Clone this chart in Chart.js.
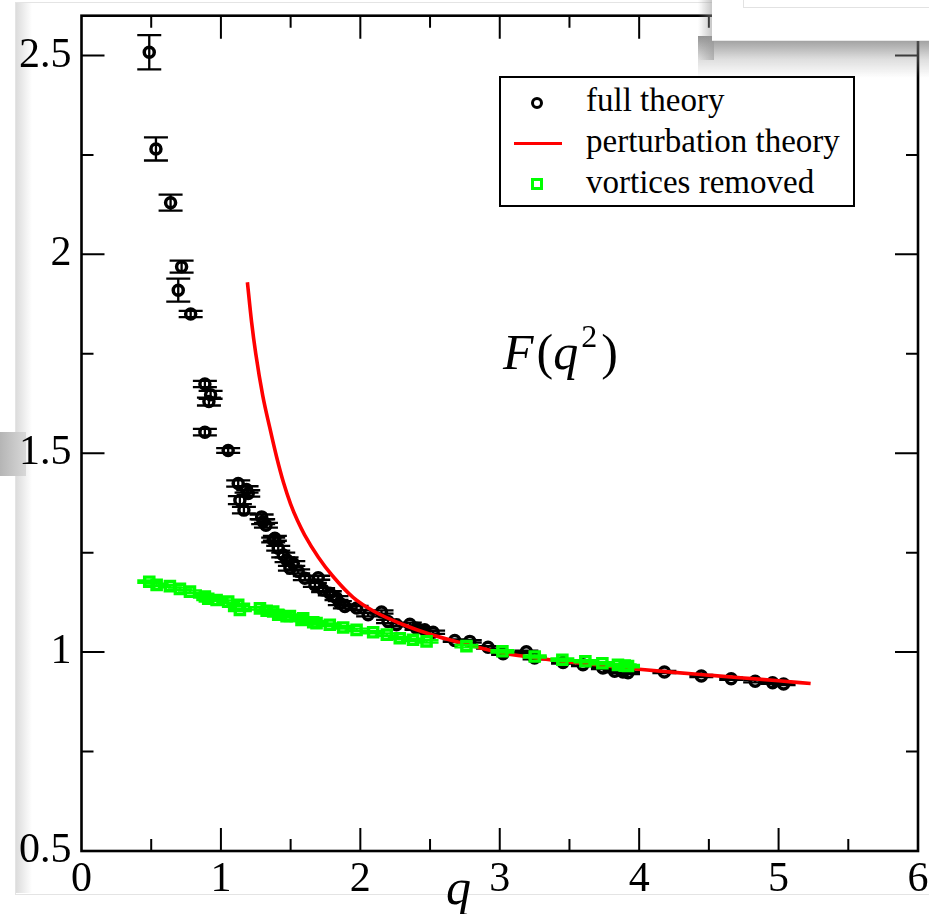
<!DOCTYPE html>
<html>
<head>
<meta charset="utf-8">
<script src="https://cdn.jsdelivr.net/npm/chart.js@4/dist/chart.umd.min.js"></script>
<style>
  html, body { margin: 0; padding: 0; background: #fff; }
  #wrap { position: relative; width: 929px; height: 914px; overflow: hidden; font-family: "Liberation Serif", "Times New Roman", serif; }
  canvas { position: absolute; left: 0; top: 0; z-index: 1; }
  .bg { position: absolute; z-index: 0; }
  .ov { position: absolute; z-index: 2; }
  .txt { position: absolute; z-index: 3; color: #000; white-space: nowrap; }
</style>
</head>
<body>
<div id="wrap">
  <!-- screenshot frame decorations -->
  <div class="bg" style="left:15px;top:2px;width:930px;height:891px;border:1px solid #e4e4e4;"></div>
  <div class="bg" style="left:16px;top:3px;width:16px;height:890px;background:linear-gradient(to right,#dcdcdc,rgba(255,255,255,0));"></div>
  <div class="bg" style="left:0px;top:432px;width:26px;height:44px;background:linear-gradient(to right,#b5b5b5,#d8d8d8);"></div>
  <div class="ov" style="left:698px;top:36px;width:240px;height:42px;background:linear-gradient(to bottom,rgba(110,110,110,0.75),rgba(160,160,160,0.35) 55%,rgba(255,255,255,0));"></div>
  <div class="ov" style="left:698px;top:0px;width:16px;height:60px;background:linear-gradient(to right,rgba(255,255,255,0),rgba(150,150,150,0.6));"></div>
  <div class="ov" style="left:712px;top:0px;width:217px;height:40px;background:#fff;border-bottom:1px solid #e8e8e8;"></div>
  <div class="ov" style="left:743px;top:-10px;width:200px;height:16px;border:1px solid #e2e2e2;background:#fff;"></div>

  <canvas id="c" width="929" height="914"></canvas>

  <!-- legend -->
  <div class="ov" style="left:499px;top:76px;width:352px;height:127px;border:2px solid #000;background:#fff;z-index:3;"></div>
  <div class="ov" style="left:531px;top:97px;width:6px;height:6px;border:3px solid #000;border-radius:50%;z-index:4;"></div>
  <div class="ov" style="left:514px;top:142px;width:48px;height:3px;background:#ff0000;z-index:4;"></div>
  <div class="ov" style="left:531px;top:178px;width:6px;height:6px;border:3px solid #00ff00;z-index:4;"></div>
  <div class="txt" style="left:586px;top:80px;font-size:33px;line-height:40px;z-index:4;">full theory</div>
  <div class="txt" style="left:586px;top:121px;font-size:33px;line-height:40px;z-index:4;">perturbation theory</div>
  <div class="txt" style="left:586px;top:162px;font-size:33px;line-height:40px;z-index:4;">vortices removed</div>

  <!-- annotation -->
  <div class="txt" style="left:503px;top:320px;font-size:50px;line-height:64px;"><i>F</i><span style="margin-left:3px;">(</span><i>q</i><sup style="font-size:32px;vertical-align:0;position:relative;top:-22px;margin-left:3px;">2</sup><span style="margin-left:4px;">)</span></div>
  <!-- axis title -->
  <div class="txt" style="left:446px;top:857px;font-size:50px;line-height:60px;"><i>q</i></div>
</div>

<script>
// ---------- data ----------
const xTickLabels = ["0", "1", "2", "3", "4", "5", "6"];
const yTickLabels = ["0.5", "1", "1.5", "2", "2.5"];

// full theory (black circles)
const fullQ = [0.486, 0.534, 0.639, 0.694, 0.718, 0.783, 0.885, 0.885, 0.914, 0.926,
  1.052, 1.124, 1.136, 1.165, 1.184, 1.196, 1.292, 1.303, 1.323, 1.375,
  1.387, 1.411, 1.447, 1.471, 1.495, 1.519, 1.554, 1.602, 1.674, 1.698,
  1.733, 1.781, 1.829, 1.853, 1.889, 1.973, 2.056, 2.152, 2.199, 2.259,
  2.355, 2.403, 2.462, 2.522, 2.677, 2.785, 2.916, 3.024, 3.191, 3.250,
  3.454, 3.597, 3.740, 3.824, 3.884, 3.920, 4.181, 4.446, 4.660, 4.832,
  4.957, 5.036];
const fullF = [2.508, 2.265, 2.130, 1.910, 1.969, 1.850, 1.674, 1.553, 1.630, 1.647,
  1.507, 1.424, 1.382, 1.357, 1.409, 1.399, 1.340, 1.328, 1.319, 1.282,
  1.286, 1.261, 1.244, 1.232, 1.211, 1.223, 1.203, 1.186, 1.169, 1.187,
  1.156, 1.148, 1.136, 1.123, 1.115, 1.111, 1.094, 1.101, 1.077, 1.069,
  1.070, 1.060, 1.056, 1.050, 1.029, 1.027, 1.012, 0.996, 1.001, 0.985,
  0.974, 0.968, 0.960, 0.952, 0.950, 0.948, 0.950, 0.940, 0.933, 0.927,
  0.923, 0.920];
const fullErr = [0.043, 0.029, 0.020, 0.029, 0.015, 0.008, 0.008, 0.008, 0.010, 0.010,
  0.006, 0.008, 0.010, 0.008, 0.008, 0.008, 0.006, 0.006, 0.006, 0.006,
  0.006, 0.006, 0.006, 0.006, 0.006, 0.006, 0.005, 0.005, 0.005, 0.005,
  0.005, 0.005, 0.005, 0.005, 0.005, 0.005, 0.004, 0.004, 0.004, 0.004,
  0.004, 0.004, 0.004, 0.004, 0.003, 0.003, 0.003, 0.003, 0.003, 0.003,
  0.003, 0.003, 0.003, 0.003, 0.003, 0.003, 0.003, 0.003, 0.003, 0.003,
  0.003, 0.003];

// perturbation theory (red curve)
const pertQ = [1.19, 1.22, 1.25, 1.30, 1.35, 1.40, 1.45, 1.50, 1.55, 1.60,
  1.70, 1.80, 1.95, 2.10, 2.30, 2.50, 2.75, 3.00, 3.25, 3.50,
  3.75, 4.00, 4.25, 4.50, 4.75, 5.00, 5.23];
const pertF = [1.930, 1.830, 1.750, 1.645, 1.565, 1.490, 1.425, 1.372, 1.330, 1.295,
  1.238, 1.192, 1.137, 1.102, 1.070, 1.045, 1.021, 0.999, 0.986, 0.975,
  0.966, 0.957, 0.949, 0.942, 0.935, 0.928, 0.921];

// vortices removed (green squares)
const vortQ = [0.486, 0.539, 0.634, 0.706, 0.778, 0.885, 0.909, 0.969, 1.052, 1.124,
  1.136, 1.280, 1.328, 1.375, 1.411, 1.471, 1.495, 1.578, 1.590, 1.662,
  1.686, 1.781, 1.877, 1.973, 2.092, 2.190, 2.283, 2.378, 2.475, 2.761,
  3.019, 3.251, 3.449, 3.614, 3.736, 3.848, 3.896, 3.920];
const vortF = [1.177, 1.169, 1.166, 1.159, 1.152, 1.140, 1.134, 1.131, 1.127, 1.119,
  1.106, 1.110, 1.104, 1.102, 1.094, 1.090, 1.091, 1.081, 1.085, 1.075,
  1.073, 1.069, 1.062, 1.056, 1.050, 1.044, 1.035, 1.031, 1.027, 1.015,
  1.002, 0.989, 0.981, 0.977, 0.972, 0.968, 0.966, 0.965];
const vortErr = vortQ.map(() => 0.003);

// ---------- build ----------
const toPts = (xs, ys) => xs.map((x, i) => ({ x: x, y: ys[i] }));
const FONT = '"Liberation Serif", "Times New Roman", serif';

const errorBars = {
  id: 'errorBars',
  beforeDatasetDraw(chart, args) {
    const ds = chart.data.datasets[args.index];
    if (!ds.errors) return;
    const xs = chart.scales.x, ys = chart.scales.y, ctx = chart.ctx;
    ctx.save();
    ctx.strokeStyle = ds.borderColor;
    ctx.lineWidth = 2.3;
    ds.data.forEach((p, i) => {
      const e = ds.errors[i];
      const px = xs.getPixelForValue(p.x);
      const y1 = ys.getPixelForValue(p.y - e);
      const y2 = ys.getPixelForValue(p.y + e);
      ctx.beginPath();
      ctx.moveTo(px, y1); ctx.lineTo(px, y2);
      ctx.moveTo(px - 12, y1); ctx.lineTo(px + 12, y1);
      ctx.moveTo(px - 12, y2); ctx.lineTo(px + 12, y2);
      ctx.stroke();
    });
    ctx.restore();
  }
};

const frameTicks = {
  id: 'frameTicks',
  afterDraw(chart) {
    const { ctx, chartArea: a } = chart;
    const xs = chart.scales.x, ys = chart.scales.y;
    ctx.save();
    ctx.strokeStyle = '#000';
    ctx.lineWidth = 2;
    const xv = xs.ticks.map(t => t.value);
    const yv = ys.ticks.map(t => t.value);
    const major = 23, minor = 12;
    ctx.beginPath();
    xv.forEach((v, i) => {
      const px = xs.getPixelForValue(v);
      if (i > 0 && i < xv.length - 1) {
        ctx.moveTo(px, a.bottom); ctx.lineTo(px, a.bottom - major);
        ctx.moveTo(px, a.top); ctx.lineTo(px, a.top + major);
      }
      if (i < xv.length - 1) {
        const m = xs.getPixelForValue((v + xv[i + 1]) / 2);
        ctx.moveTo(m, a.bottom); ctx.lineTo(m, a.bottom - minor);
        ctx.moveTo(m, a.top); ctx.lineTo(m, a.top + minor);
      }
    });
    yv.forEach((v, i) => {
      const py = ys.getPixelForValue(v);
      if (py > a.top + 1 && py < a.bottom - 1) {
        ctx.moveTo(a.left, py); ctx.lineTo(a.left + major, py);
        ctx.moveTo(a.right, py); ctx.lineTo(a.right - major, py);
      }
      const step = i < yv.length - 1 ? yv[i + 1] - v : v - yv[i - 1];
      const m = ys.getPixelForValue(v + step / 2);
      if (m > a.top + 1 && m < a.bottom - 1) {
        ctx.moveTo(a.left, m); ctx.lineTo(a.left + minor, m);
        ctx.moveTo(a.right, m); ctx.lineTo(a.right - minor, m);
      }
    });
    ctx.stroke();
    ctx.lineWidth = 2.6;
    ctx.strokeRect(a.left, a.top, a.right - a.left, a.bottom - a.top);
    ctx.restore();
  }
};

new Chart(document.getElementById('c'), {
  type: 'scatter',
  data: {
    datasets: [
      {
        label: 'full theory',
        data: toPts(fullQ, fullF),
        errors: fullErr,
        borderColor: '#000000',
        backgroundColor: 'rgba(0,0,0,0)',
        pointStyle: 'circle',
        pointRadius: 5,
        pointBorderWidth: 3.5,
        showLine: false,
        order: 3
      },
      {
        label: 'perturbation theory',
        data: toPts(pertQ, pertF),
        borderColor: '#ff0000',
        backgroundColor: '#ff0000',
        borderWidth: 3.6,
        pointRadius: 0,
        showLine: true,
        cubicInterpolationMode: 'monotone',
        order: 2
      },
      {
        label: 'vortices removed',
        data: toPts(vortQ, vortF),
        errors: vortErr,
        borderColor: '#00ff00',
        backgroundColor: 'rgba(0,0,0,0)',
        pointStyle: 'rect',
        pointRadius: 6.5,
        pointBorderWidth: 3.4,
        showLine: false,
        order: 1
      }
    ]
  },
  options: {
    responsive: false,
    animation: false,
    devicePixelRatio: 1,
    layout: { padding: { top: 15.7, right: 11, left: 0, bottom: 0 } },
    plugins: { legend: { display: false }, tooltip: { enabled: false } },
    scales: {
      x: {
        type: 'linear',
        min: 0, max: 6,
        afterBuildTicks: s => { s.ticks = xTickLabels.map(l => ({ value: parseFloat(l) })); },
        afterFit: s => { s.height = 63; s.paddingLeft = 0; s.paddingRight = 0; },
        ticks: {
          color: '#000', padding: 4,
          font: { family: FONT, size: 42 },
          maxRotation: 0, autoSkip: false,
          callback: (v, i) => xTickLabels[i]
        },
        grid: { display: false, drawTicks: false },
        border: { display: false }
      },
      y: {
        type: 'linear',
        min: 0.5, max: 2.6,
        afterBuildTicks: s => { s.ticks = yTickLabels.map(l => ({ value: parseFloat(l) })); },
        afterFit: s => { s.width = 81.5; s.paddingTop = 0; s.paddingBottom = 0; },
        ticks: {
          color: '#000', padding: 10,
          font: { family: FONT, size: 42 },
          autoSkip: false,
          callback: (v, i) => yTickLabels[i]
        },
        grid: { display: false, drawTicks: false },
        border: { display: false }
      }
    }
  },
  plugins: [errorBars, frameTicks]
});
</script>
</body>
</html>
